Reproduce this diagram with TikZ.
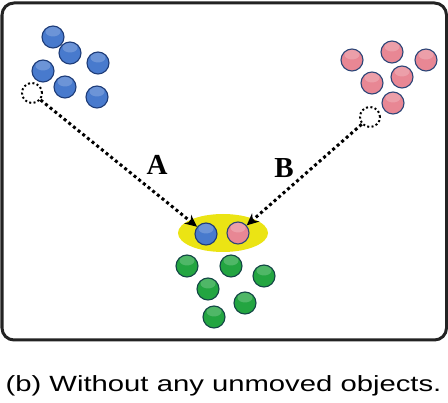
\documentclass[tikz,border=0pt]{standalone}
\usepackage{fontspec}
\usepackage{graphicx}
\setmainfont{Liberation Serif}
\newfontfamily\capfont{Liberation Sans}
\usetikzlibrary{arrows.meta,calc}
\definecolor{bluebase}{RGB}{72,122,205}
\definecolor{blueedge}{RGB}{30,60,120}
\definecolor{pinkbase}{RGB}{232,135,148}
\definecolor{pinkedge}{RGB}{45,70,120}
\definecolor{greenbase}{RGB}{35,165,65}
\definecolor{greenedge}{RGB}{20,70,70}
\definecolor{hlyellow}{RGB}{235,228,20}
\definecolor{framecol}{RGB}{35,35,35}
\begin{document}
\begin{tikzpicture}[x=1pt,y=-1pt,
  ball/.style={circle,minimum size=22pt,inner sep=0pt,line width=1.1pt,
    path picture={\fill[white,opacity=0.2] ($(path picture bounding box.north)+(0,5.5)$) ellipse (7.5pt and 5pt);}},
  blueball/.style={ball,fill=bluebase,draw=blueedge},
  pinkball/.style={ball,fill=pinkbase,draw=pinkedge},
  greenball/.style={ball,fill=greenbase,draw=greenedge},
  emptyspot/.style={circle,minimum size=20pt,inner sep=0pt,draw=black,line width=2pt,dash pattern=on 2pt off 2.4pt},
  movearrow/.style={draw=black,line width=3pt,dash pattern=on 3pt off 3pt,-{Stealth[length=12pt,width=11pt]}},
  lab/.style={font=\fontsize{29}{31}\selectfont\bfseries,inner sep=0pt}
]
\useasboundingbox (0,0) rectangle (448,403);
\draw[framecol,line width=3pt,rounded corners=12pt] (2,3) rectangle (446.5,340);
% blue group
\node[blueball] (b1) at (53,37) {};
\node[blueball] (b2) at (70,53) {};
\node[blueball] (b3) at (98,63) {};
\node[blueball] (b4) at (43,71) {};
\node[blueball] (b5) at (65,87) {};
\node[blueball] (b6) at (97,97) {};
\node[emptyspot] (da) at (32,93) {};
% pink group
\node[pinkball] (p1) at (352,60) {};
\node[pinkball] (p2) at (392,52) {};
\node[pinkball] (p3) at (426,60) {};
\node[pinkball] (p4) at (372,83) {};
\node[pinkball] (p5) at (402,77) {};
\node[pinkball] (p6) at (393,103) {};
\node[emptyspot] (db) at (370,117) {};
% target
\fill[hlyellow] (223,233) ellipse (45pt and 19pt);
\node[blueball] (tb) at (206,234) {};
\node[pinkball] (tp) at (238,233) {};
% green group
\node[greenball] (g1) at (187,266) {};
\node[greenball] (g2) at (231,266) {};
\node[greenball] (g3) at (264,276) {};
\node[greenball] (g4) at (208,289) {};
\node[greenball] (g5) at (245,303) {};
\node[greenball] (g6) at (214,317) {};
% arrows
\draw[movearrow] (da) -- (tb);
\draw[movearrow] (db) -- (tp);
\node[lab] (la) at (157,165) {A};
\node[lab] (lb) at (284,168) {B};
% caption
\node[anchor=base,inner sep=0pt] (cap) at (223.5,392) {\scalebox{1.33}[1]{\capfont\fontsize{22}{26}\selectfont (b) Without any unmoved objects.}};
\end{tikzpicture}
\end{document}
